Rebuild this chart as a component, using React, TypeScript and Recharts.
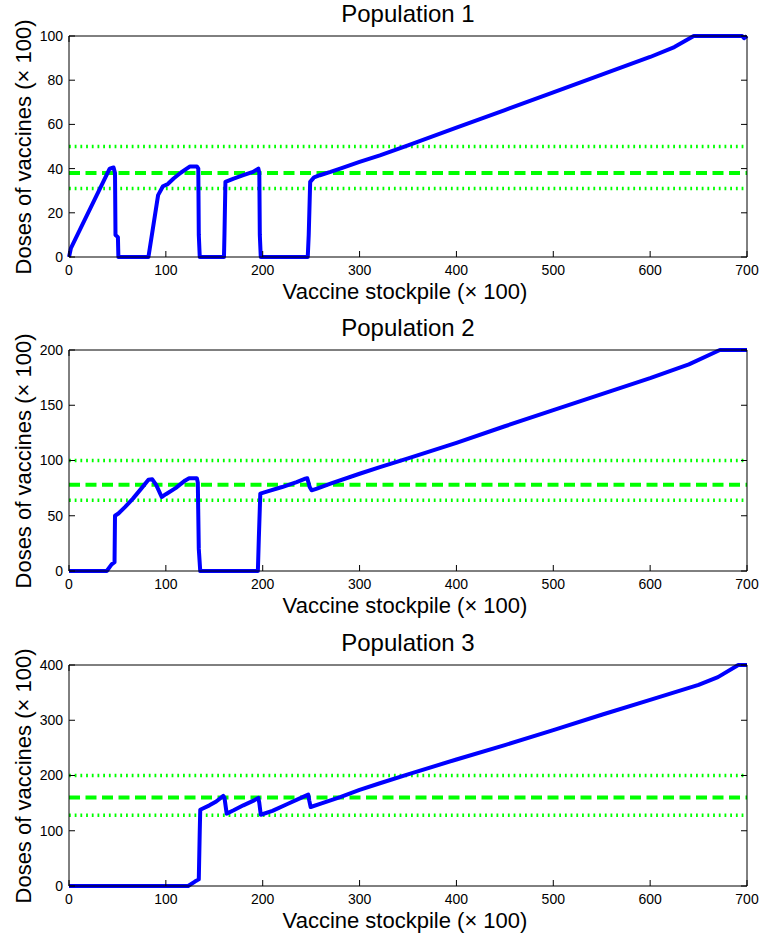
import { LineChart, Line, XAxis, YAxis, ReferenceLine } from 'recharts';

// stockpile (x100) and doses (x100)
const stock1 = [0, 2, 42, 46, 47.5, 48, 50.5, 51, 82, 92, 97, 102, 108, 115, 120, 125, 132, 133.5, 134, 135, 160, 160.5, 161.5, 170, 180, 190, 195.5, 196.5, 197, 198, 246.5, 247.5, 249, 253, 259, 270, 280, 300, 321, 350, 400, 450, 500, 550, 600, 625, 635, 645, 695, 697, 700];
const doses1 = [0, 4, 40, 40.5, 38, 10, 9, 0, 0, 28, 32, 33, 35.5, 38, 39.5, 41, 41, 40, 10, 0, 0, 10, 34, 35.5, 37, 38.5, 40, 38, 10, 0, 0, 10, 34, 36, 37, 38.5, 40, 43, 46, 50.5, 58.5, 66.5, 74.5, 82.5, 90.5, 95, 97.5, 100, 100, 99, 100];

const stock2 = [0, 39, 44, 47, 47.5, 51, 58, 66, 75, 82, 86, 90, 95.7, 100, 110, 120, 124, 132, 133, 134, 135.5, 195, 196, 197.5, 205, 220, 235, 244, 246, 248.5, 250.5, 256, 270, 300, 321, 350, 400, 450, 500, 550, 600, 640, 672, 700];
const doses2 = [0, 0, 6, 8, 50, 52, 58, 65.5, 75, 82.5, 83, 78, 67, 69.5, 75, 82, 84, 84, 80, 20, 0, 0, 30, 70, 72, 76, 80.5, 83.5, 84, 76, 73, 74.5, 79, 88, 94, 102, 116, 131, 145.5, 160, 174.5, 187, 200, 200];

const stock3 = [0, 123, 130, 134, 135, 135.5, 145, 152, 159.3, 160.5, 162.8, 170, 180, 190, 195.5, 196.5, 198, 210, 225, 240, 247, 248, 249.5, 260, 280, 300, 321, 350, 400, 450, 500, 550, 600, 650, 670, 691, 700];
const doses3 = [0, 0, 8, 12, 100, 138, 146, 153, 163, 160, 131, 137, 146, 154, 159.5, 150, 129, 136, 148, 160, 165.5, 155, 143, 149, 161, 174, 186, 202, 229, 255, 282, 310, 337, 364, 378, 400, 400];

const xTicks = [0, 100, 200, 300, 400, 500, 600, 700];
const yTicks1 = [0, 20, 40, 60, 80, 100];
const yTicks2 = [0, 50, 100, 150, 200];
const yTicks3 = [0, 100, 200, 300, 400];

// target (dashed) and band (dotted) per population
const targets = [38, 78, 160];
const uppers = [50, 100, 200];
const lowers = [31, 64, 128];

const FONT = '"Liberation Sans", Arial, Helvetica, sans-serif';
const TICK = 6;

function build(xs: number[], ys: number[]) {
  return xs.map((x, i) => ({ x, y: ys[i] }));
}

// matlab-style ticks point into the plot box; x/y arrive on the axis line
function BottomTick({ x, y, payload }: any) {
  const px = Number(x);
  const py = Number(y);
  return (
    <g>
      <line x1={px} x2={px} y1={py} y2={py - TICK} stroke="#000" strokeWidth={1} />
      <text x={px} y={py + 8} dy="0.71em" textAnchor="middle" fontSize={14} fontFamily={FONT} fill="#000">
        {payload.value}
      </text>
    </g>
  );
}

function LeftTick({ x, y, payload }: any) {
  const px = Number(x);
  const py = Number(y);
  return (
    <g>
      <line x1={px} x2={px + TICK} y1={py} y2={py} stroke="#000" strokeWidth={1} />
      <text x={px - 6} y={py} dy="0.355em" textAnchor="end" fontSize={14} fontFamily={FONT} fill="#000">
        {payload.value}
      </text>
    </g>
  );
}

function TopTick({ x, y }: any) {
  const px = Number(x);
  const py = Number(y);
  return <line x1={px} x2={px} y1={py} y2={py + TICK} stroke="#000" strokeWidth={1} />;
}

function RightTick({ x, y }: any) {
  const px = Number(x);
  const py = Number(y);
  return <line x1={px} x2={px - TICK} y1={py} y2={py} stroke="#000" strokeWidth={1} />;
}

const labelStyle: any = { position: 'absolute', fontFamily: FONT, color: '#000', textAlign: 'center', whiteSpace: 'nowrap' };

function Panel({ title, data, yTicks, target, upper, lower }: any) {
  const yMax = yTicks[yTicks.length - 1];
  return (
    <div style={{ position: 'relative', width: 762, height: 314 }}>
      <LineChart width={762} height={314} data={data} margin={{ top: 35, right: 14, left: 0, bottom: 27 }}>
        <XAxis
          dataKey="x"
          type="number"
          domain={[0, 700]}
          ticks={xTicks}
          interval={0}
          tickSize={0}
          tickMargin={0}
          tickLine={false}
          height={30}
          stroke="#000"
          tick={<BottomTick />}
        />
        <XAxis
          xAxisId="top"
          orientation="top"
          type="number"
          domain={[0, 700]}
          allowDataOverflow
          ticks={xTicks}
          interval={0}
          tickSize={0}
          tickMargin={0}
          tickLine={false}
          height={1}
          stroke="#000"
          tick={<TopTick />}
        />
        <YAxis
          type="number"
          domain={[0, yMax]}
          ticks={yTicks}
          interval={0}
          tickSize={0}
          tickMargin={0}
          tickLine={false}
          width={69}
          stroke="#000"
          tick={<LeftTick />}
        />
        <YAxis
          yAxisId="right"
          orientation="right"
          type="number"
          domain={[0, yMax]}
          allowDataOverflow
          ticks={yTicks}
          interval={0}
          tickSize={0}
          tickMargin={0}
          tickLine={false}
          width={1}
          stroke="#000"
          tick={<RightTick />}
        />
        <ReferenceLine y={upper} stroke="#00ff00" strokeWidth={3.5} strokeDasharray="1.8 3.9" />
        <ReferenceLine y={lower} stroke="#00ff00" strokeWidth={3.5} strokeDasharray="1.8 3.9" />
        <ReferenceLine y={target} stroke="#00ff00" strokeWidth={4} strokeDasharray="11 5.5" />
        <Line
          type="linear"
          dataKey="y"
          stroke="#0000ff"
          strokeWidth={4}
          strokeLinejoin="round"
          dot={false}
          activeDot={false}
          isAnimationActive={false}
        />
      </LineChart>
      <div style={{ ...labelStyle, left: 208, top: 2, width: 400, fontSize: 24, lineHeight: '24px' }}>{title}</div>
      <div style={{ ...labelStyle, left: 205, top: 281, width: 400, fontSize: 22, lineHeight: '22px' }}>
        Vaccine stockpile (× 100)
      </div>
      <div style={{ ...labelStyle, left: 24 - 150, top: 146.5 - 11, width: 300, height: 22, fontSize: 22, lineHeight: '22px', transform: 'rotate(-90deg)' }}>
        Doses of vaccines (× 100)
      </div>
    </div>
  );
}

export default function App() {
  return (
    <div style={{ position: 'absolute', left: 0, top: 0, width: 762, height: 941, background: '#fff' }}>
      <Panel title="Population 1" data={build(stock1, doses1)} yTicks={yTicks1} target={targets[0]} upper={uppers[0]} lower={lowers[0]} />
      <Panel title="Population 2" data={build(stock2, doses2)} yTicks={yTicks2} target={targets[1]} upper={uppers[1]} lower={lowers[1]} />
      <div style={{ height: 1 }} />
      <Panel title="Population 3" data={build(stock3, doses3)} yTicks={yTicks3} target={targets[2]} upper={uppers[2]} lower={lowers[2]} />
    </div>
  );
}
